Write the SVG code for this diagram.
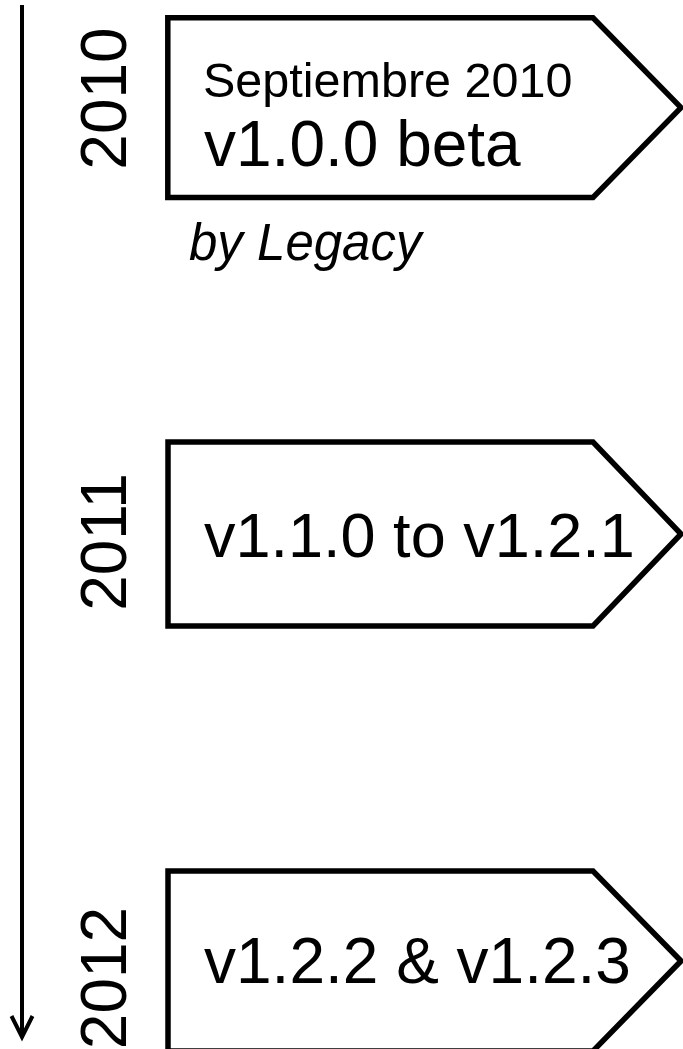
<svg xmlns="http://www.w3.org/2000/svg" width="683" height="1049" viewBox="0 0 683 1049">
<style>
.box{fill:#fff;stroke:#000;stroke-width:5.5;stroke-linejoin:miter}
.t{font-family:"Liberation Sans",Arial,sans-serif;fill:#000}
.year{font-size:64px;text-anchor:middle}
.line{stroke:#000;stroke-width:4;fill:none}
</style>
<rect width="683" height="1049" fill="#fff"/>
<g id="connectors">
<line class="line" x1="22" y1="5" x2="22" y2="1035"/>
<polyline class="line" points="11.5,1016 22,1037 32.5,1016"/>
</g>
<g id="year-2010"><text class="t year" transform="translate(126,98.5) rotate(-90)">2010</text></g>
<g id="year-2011"><text class="t year" transform="translate(126,542) rotate(-90)">2011</text></g>
<g id="year-2012"><text class="t year" transform="translate(126,978) rotate(-90)">2012</text></g>
<g id="node-2010">
<path class="box" d="M167.8,17.8 H593 L681,107.6 L593,197.5 H167.8 Z"/>
<text class="t" x="203" y="97" font-size="48.5">Septiembre 2010</text>
<text class="t" x="204" y="166" font-size="64">v1.0.0 beta</text>
</g>
<g id="note-legacy"><text class="t" x="189" y="260" font-size="51" font-style="italic">by Legacy</text></g>
<g id="node-2011">
<path class="box" d="M168,442 H593 L681,534 L593,626 H168 Z"/>
<text class="t" x="204" y="557" font-size="63">v1.1.0 to v1.2.1</text>
</g>
<g id="node-2012">
<path class="box" d="M168,871 H593 L681,961 L593,1051 H168 Z"/>
<text class="t" x="204" y="983" font-size="64">v1.2.2 &amp; v1.2.3</text>
</g>
</svg>
